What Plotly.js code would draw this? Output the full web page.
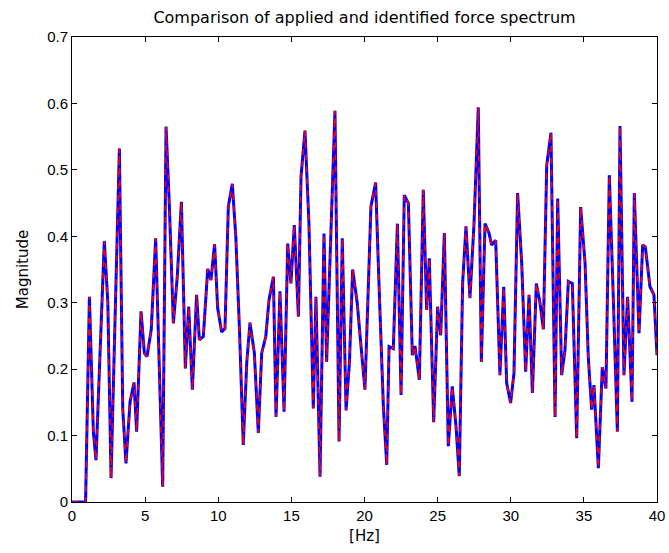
<!DOCTYPE html>
<html>
<head>
<meta charset="utf-8">
<script src="https://cdn.plot.ly/plotly-3.0.1.min.js"></script>
<style>html,body{margin:0;padding:0;background:#fff;}#chart{width:669px;height:553px;}</style>
</head>
<body>
<div id="chart"></div>
<script>
const freqHz = [0,0.93,1.19,1.46,1.64,1.90,2.21,2.45,2.67,2.95,3.24,3.47,3.69,3.97,4.24,4.42,4.72,4.95,5.13,5.42,5.72,5.96,6.20,6.43,6.65,6.93,7.20,7.48,7.75,7.98,8.23,8.52,8.71,8.98,9.28,9.50,9.75,9.96,10.23,10.46,10.69,10.96,11.20,11.45,11.71,11.95,12.17,12.47,12.74,12.97,13.25,13.47,13.77,13.95,14.22,14.50,14.75,14.97,15.20,15.48,15.66,15.93,16.20,16.50,16.68,16.96,17.23,17.41,17.65,17.98,18.26,18.48,18.74,18.97,19.19,19.50,19.78,20.03,20.44,20.76,20.99,21.29,21.52,21.68,21.97,22.25,22.50,22.72,23.00,23.27,23.45,23.75,24.02,24.25,24.43,24.73,25.00,25.21,25.46,25.73,26.00,26.26,26.48,26.71,26.94,27.21,27.49,27.78,27.99,28.24,28.51,28.69,28.97,29.26,29.52,29.72,29.99,30.22,30.47,30.75,31.02,31.25,31.48,31.75,32.00,32.23,32.46,32.75,33.03,33.21,33.48,33.71,33.94,34.21,34.51,34.78,35.08,35.30,35.53,35.69,35.99,36.26,36.51,36.74,37.01,37.29,37.47,37.74,37.99,38.29,38.45,38.77,39.02,39.20,39.52,39.79,40.00];

const appliedMag = [0,0,0.309,0.106,0.063,0.21,0.393,0.30,0.036,0.28,0.532,0.14,0.058,0.151,0.180,0.106,0.287,0.224,0.219,0.26,0.397,0.21,0.023,0.565,0.45,0.269,0.34,0.452,0.201,0.294,0.169,0.312,0.244,0.249,0.351,0.334,0.388,0.292,0.256,0.261,0.445,0.479,0.40,0.26,0.086,0.21,0.270,0.224,0.104,0.224,0.249,0.304,0.339,0.128,0.317,0.136,0.389,0.329,0.417,0.279,0.49,0.559,0.42,0.141,0.309,0.038,0.404,0.211,0.37,0.589,0.091,0.397,0.138,0.21,0.350,0.30,0.23,0.169,0.445,0.481,0.329,0.144,0.056,0.234,0.231,0.419,0.161,0.462,0.450,0.221,0.235,0.184,0.470,0.289,0.367,0.12,0.294,0.251,0.405,0.084,0.174,0.113,0.039,0.33,0.415,0.307,0.42,0.594,0.211,0.419,0.405,0.387,0.394,0.191,0.324,0.179,0.149,0.194,0.465,0.359,0.196,0.312,0.164,0.329,0.30,0.260,0.507,0.556,0.128,0.457,0.191,0.229,0.332,0.329,0.096,0.444,0.36,0.219,0.139,0.176,0.051,0.203,0.171,0.492,0.309,0.106,0.566,0.191,0.309,0.151,0.465,0.254,0.387,0.384,0.324,0.312,0.221];

const identifiedMag = [0,0,0.309,0.106,0.063,0.21,0.393,0.30,0.036,0.28,0.532,0.14,0.058,0.151,0.180,0.106,0.287,0.224,0.219,0.26,0.397,0.21,0.023,0.565,0.45,0.269,0.34,0.452,0.201,0.294,0.169,0.312,0.244,0.249,0.351,0.334,0.388,0.292,0.256,0.261,0.445,0.479,0.40,0.26,0.086,0.21,0.270,0.224,0.104,0.224,0.249,0.304,0.339,0.128,0.317,0.136,0.389,0.329,0.417,0.279,0.49,0.559,0.42,0.141,0.309,0.038,0.404,0.211,0.37,0.589,0.091,0.397,0.138,0.21,0.350,0.30,0.23,0.169,0.445,0.481,0.329,0.144,0.056,0.234,0.231,0.419,0.161,0.462,0.450,0.221,0.235,0.184,0.470,0.289,0.367,0.12,0.294,0.251,0.405,0.084,0.174,0.113,0.039,0.33,0.415,0.307,0.42,0.594,0.211,0.419,0.405,0.387,0.394,0.191,0.324,0.179,0.149,0.194,0.465,0.359,0.196,0.312,0.164,0.329,0.30,0.260,0.507,0.556,0.128,0.457,0.191,0.229,0.332,0.329,0.096,0.444,0.36,0.219,0.139,0.176,0.051,0.203,0.171,0.492,0.309,0.106,0.566,0.191,0.309,0.151,0.465,0.254,0.387,0.384,0.324,0.312,0.221];

const xTicks = [0,5,10,15,20,25,30,35,40];
const yTicks = [0,0.1,0.2,0.3,0.4,0.5,0.6,0.7];

const font = "Liberation Sans, Arial, Helvetica, sans-serif";
const wideFont = "DejaVu Sans, Verdana, sans-serif";

const traces = [
  {x: freqHz, y: identifiedMag, type: 'scatter', mode: 'lines', name: 'identified',
   line: {color: '#0000ff', width: 3}},
  {x: freqHz, y: appliedMag, type: 'scatter', mode: 'lines', name: 'applied',
   line: {color: '#ff0000', width: 1.6, dash: '6px,6px'}}
];

const axisCommon = {
  showgrid: false, zeroline: false, showline: true, mirror: 'ticks',
  linecolor: '#000', linewidth: 1, ticks: 'inside', ticklen: 5, tickcolor: '#000',
  tickfont: {family: font, size: 15, color: '#000'}
};

const layout = {
  width: 669, height: 553,
  margin: {l: 72, r: 12, t: 37, b: 51},
  paper_bgcolor: '#fff', plot_bgcolor: '#fff',
  showlegend: false,
  title: {text: 'Comparison of applied and identified force spectrum',
          font: {family: wideFont, size: 16, color: '#000'}, xref: 'paper', x: 0.5, xanchor: 'center', y: 0.968, yanchor: 'middle'},
  xaxis: Object.assign({}, axisCommon, {range: [0, 40], tickvals: xTicks, ticktext: xTicks.map(String),
          title: {text: '[Hz]', font: {family: wideFont, size: 15, color: '#000'}, standoff: 7}}),
  yaxis: Object.assign({}, axisCommon, {range: [0, 0.7], tickvals: yTicks, ticktext: yTicks.map(String),
          title: {text: 'Magnitude', font: {family: wideFont, size: 15, color: '#000'}, standoff: 14}})
};

Plotly.newPlot('chart', traces, layout, {displayModeBar: false, staticPlot: true});
</script>
</body>
</html>
